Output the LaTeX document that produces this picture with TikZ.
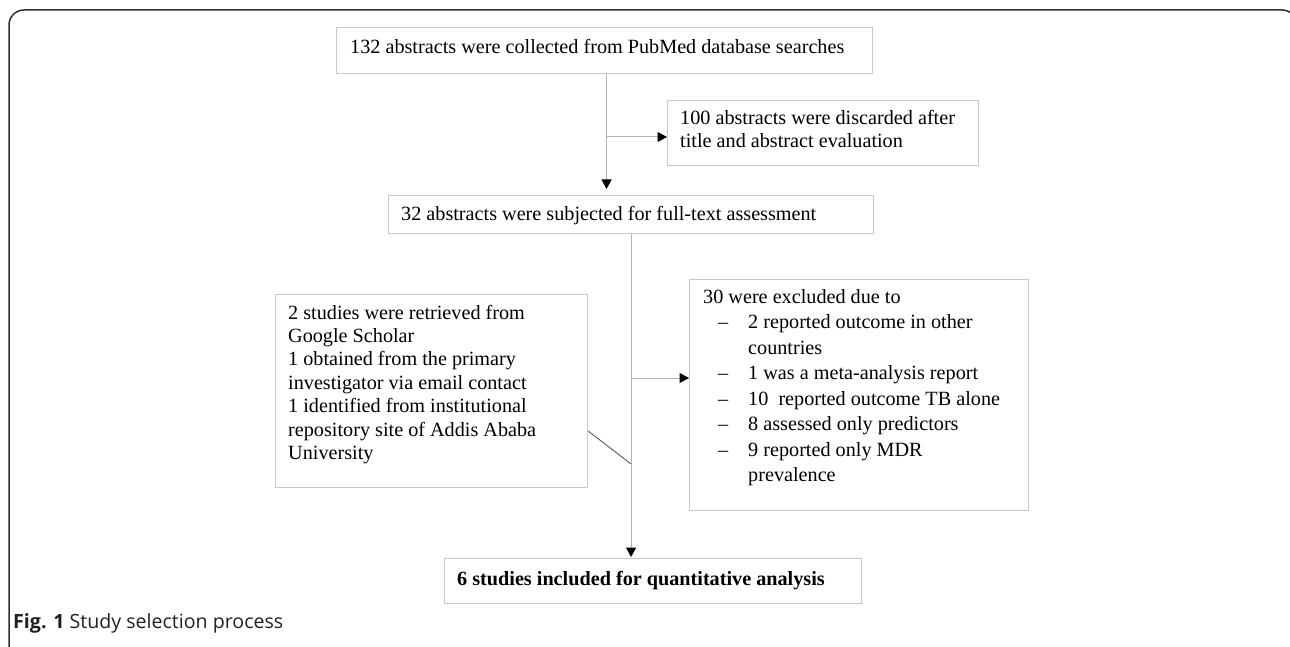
\documentclass[tikz,border=0pt]{standalone}
\usepackage{fontspec}
\setmainfont{Liberation Serif}
\newfontfamily\capfont{Open Sans}
\usetikzlibrary{arrows.meta,calc}
\definecolor{boxgray}{HTML}{C8C8C8}
\definecolor{linegray}{HTML}{B4B4B4}
\definecolor{framegray}{HTML}{2E2E2E}
\definecolor{capcol}{HTML}{231F20}
\tikzset{
  box/.style={draw=boxgray, line width=1.1pt, inner sep=0pt, anchor=north west},
  txt/.style={font=\fontsize{20.2}{23.4}\selectfont, inner sep=0pt, anchor=base west, align=left},
  conn/.style={draw=linegray, line width=1pt},
  arr/.style={conn, -{Triangle[length=9.5pt,width=10pt,color=black]}},
  frame/.style={draw=framegray, line width=1.5pt}
}
\begin{document}
\begin{tikzpicture}[x=1pt,y=-1pt]
\useasboundingbox (0,0) rectangle (1290,647);
% outer frame
\draw[frame] (9,660) -- (9,25) arc[start angle=180,end angle=270,radius=15] -- (1282,10) arc[start angle=270,end angle=360,radius=15];
% boxes
\node[box, minimum width=536pt, minimum height=46pt] (top) at (336,27) {};
\node[box, minimum width=311pt, minimum height=65pt] (b100) at (667,100) {};
\node[box, minimum width=485pt, minimum height=38pt] (b32) at (388,195) {};
\node[box, minimum width=312pt, minimum height=193pt] (left) at (275,294) {};
\node[box, minimum width=339pt, minimum height=231pt] (b30) at (689,279) {};
\node[box, minimum width=417pt, minimum height=45pt] (final) at (444,558) {};
% texts (multi-line nodes: base = baseline of last line)
\node[txt] (ttop) at (350,54) {132 abstracts were collected from PubMed database searches};
\node[txt, font=\fontsize{20.2}{23}\selectfont] (t100) at (680,148) {100 abstracts were discarded after\\title and abstract evaluation};
\node[txt] (t32) at (401,220) {32 abstracts were subjected for full-text assessment};
\node[txt] (tleft) at (288,459.4) {2 studies were retrieved from\\Google Scholar\\1 obtained from the primary\\investigator via email contact\\1 identified from institutional\\repository site of Addis Ababa\\University};
\node[txt, font=\fontsize{20.2}{25.5}\selectfont] (t30) at (703,481.5) {30 were excluded due to\\
\hspace*{15pt}\makebox[30pt][l]{--}2 reported outcome in other\\
\hspace*{45pt}countries\\
\hspace*{15pt}\makebox[30pt][l]{--}1 was a meta-analysis report\\
\hspace*{15pt}\makebox[30pt][l]{--}10\ \ reported outcome TB alone\\
\hspace*{15pt}\makebox[30pt][l]{--}8 assessed only predictors\\
\hspace*{15pt}\makebox[30pt][l]{--}9 reported only MDR\\
\hspace*{45pt}prevalence};
\node[txt, font=\bfseries\fontsize{20.2}{23.4}\selectfont] (tfinal) at (457,585) {6 studies included for quantitative analysis};
% connectors
\coordinate (c1) at ([xshift=2pt]top.south);
\coordinate (j1) at (c1 |- 0,137);
\draw[arr, shorten >=6pt] (c1) -- (c1 |- b32.north);
\draw[arr] (j1) -- (j1 -| b100.west);
\coordinate (c2) at (b32.south);
\coordinate (j2) at (c2 |- 0,378);
\coordinate (j3) at (c2 |- 0,464);
\coordinate (l1) at (left.east |- 0,431);
\draw[arr, shorten >=1pt] (c2) -- (c2 |- final.north);
\draw[arr] (j2) -- (j2 -| b30.west);
\draw[draw=black!65, line width=0.9pt] (l1) -- (j3);
% caption
\node[inner sep=0pt, anchor=base west, font=\capfont\fontsize{19.6}{21}\selectfont, text=capcol] (cap) at (13,628) {\textbf{Fig. 1} Study selection process};
\end{tikzpicture}
\end{document}
